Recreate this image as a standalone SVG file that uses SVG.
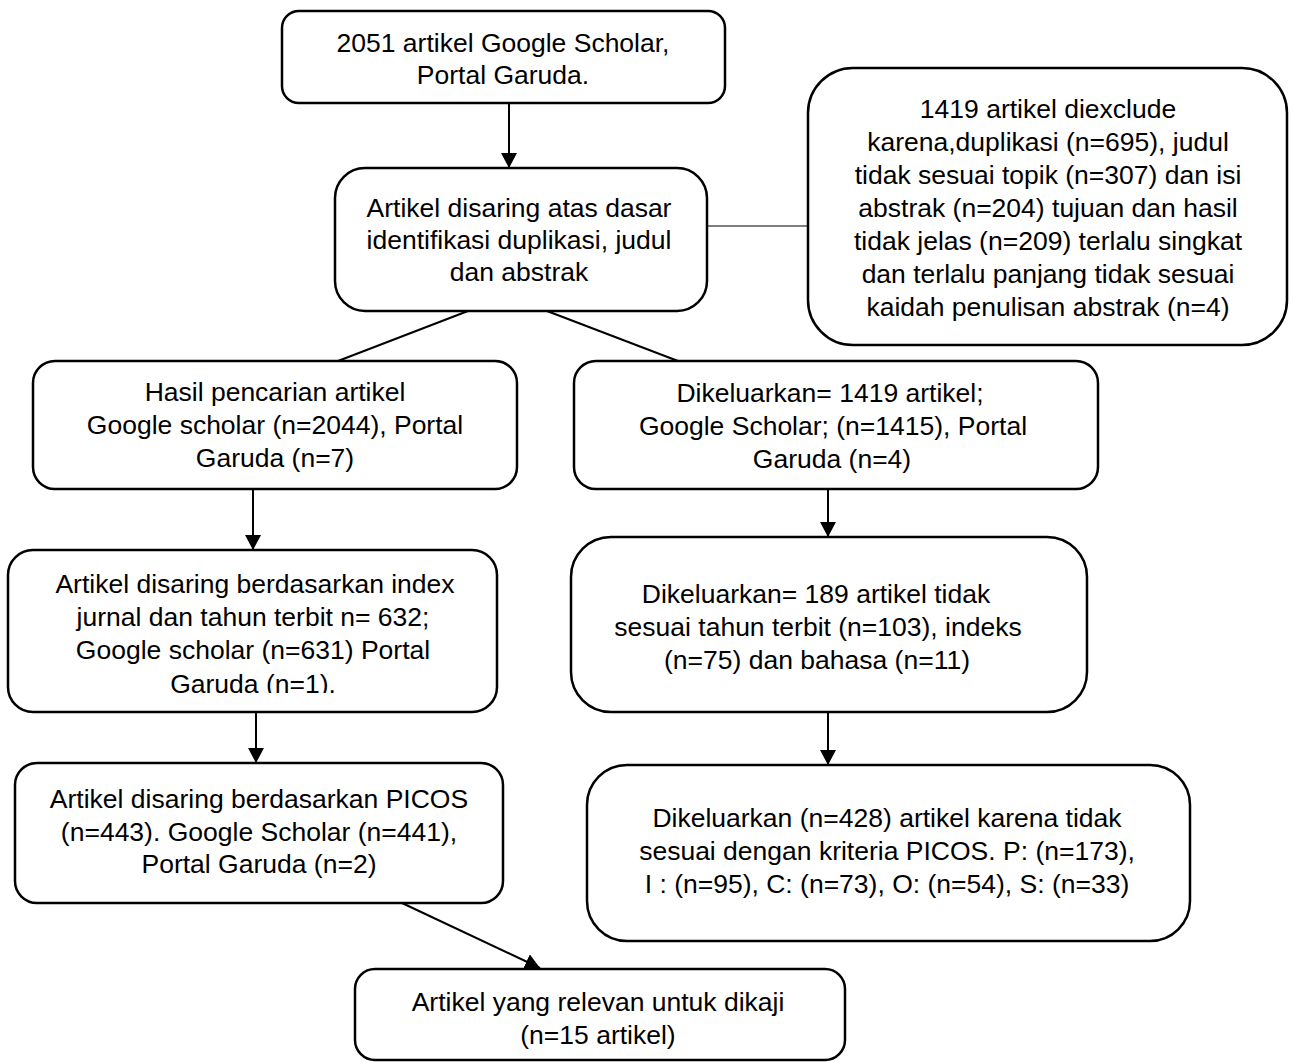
<svg xmlns="http://www.w3.org/2000/svg" width="1293" height="1062" viewBox="0 0 1293 1062">
<style>
.box{fill:#fff;stroke:#000;stroke-width:2.5}
.t{font-family:"Liberation Sans",Arial,sans-serif;font-size:26.5px;fill:#000;text-anchor:middle}
.c{stroke:#000;stroke-width:2;fill:none}
.thin{stroke:#000;stroke-width:1.2;fill:none}
</style>
<defs>
<marker id="ah" markerUnits="userSpaceOnUse" markerWidth="16" markerHeight="16" refX="15" refY="8" orient="auto">
<path d="M0,0 L15,8 L0,16 z" fill="#000"/>
</marker>
<clipPath id="clip6"><rect x="0" y="540" width="520" height="153"/></clipPath>
</defs>
<rect width="1293" height="1062" fill="#fff"/>
<g id="connectors">
<line class="c" x1="509" y1="103" x2="509" y2="168" marker-end="url(#ah)"/>
<line class="thin" x1="707" y1="226" x2="808" y2="226"/>
<line class="c" x1="468" y1="311" x2="338" y2="361"/>
<line class="c" x1="547" y1="311" x2="678" y2="361"/>
<line class="c" x1="253" y1="489" x2="253" y2="550" marker-end="url(#ah)"/>
<line class="c" x1="256" y1="712" x2="256" y2="763" marker-end="url(#ah)"/>
<line class="c" x1="828" y1="489" x2="828" y2="537" marker-end="url(#ah)"/>
<line class="c" x1="828" y1="712" x2="828" y2="765" marker-end="url(#ah)"/>
<line class="c" x1="402" y1="903" x2="540" y2="968" marker-end="url(#ah)"/>
</g>
<g id="n1">
<rect class="box" x="282" y="11" width="443" height="92" rx="17"/>
<text class="t" x="503" y="52">2051 artikel Google Scholar,</text>
<text class="t" x="503" y="84">Portal Garuda.</text>
</g>
<g id="n2">
<rect class="box" x="335" y="168" width="372" height="143" rx="30"/>
<text class="t" x="519" y="217">Artikel disaring atas dasar</text>
<text class="t" x="519" y="249">identifikasi duplikasi, judul</text>
<text class="t" x="519" y="281">dan abstrak</text>
</g>
<g id="n3">
<rect class="box" x="808" y="68" width="479" height="277" rx="45"/>
<text class="t" x="1048" y="118">1419 artikel diexclude</text>
<text class="t" x="1048" y="151">karena,duplikasi (n=695), judul</text>
<text class="t" x="1048" y="184">tidak sesuai topik (n=307) dan isi</text>
<text class="t" x="1048" y="217">abstrak (n=204) tujuan dan hasil</text>
<text class="t" x="1048" y="250">tidak jelas (n=209) terlalu singkat</text>
<text class="t" x="1048" y="283">dan terlalu panjang tidak sesuai</text>
<text class="t" x="1048" y="316">kaidah penulisan abstrak (n=4)</text>
</g>
<g id="n4">
<rect class="box" x="33" y="361" width="484" height="128" rx="22"/>
<text class="t" x="275" y="401">Hasil pencarian artikel</text>
<text class="t" x="275" y="434">Google scholar (n=2044), Portal</text>
<text class="t" x="275" y="467">Garuda (n=7)</text>
</g>
<g id="n5">
<rect class="box" x="574" y="361" width="524" height="128" rx="22"/>
<text class="t" x="830" y="402">Dikeluarkan= 1419 artikel;</text>
<text class="t" x="833" y="435">Google Scholar; (n=1415), Portal</text>
<text class="t" x="832" y="468">Garuda (n=4)</text>
</g>
<g id="n6">
<rect class="box" x="8" y="550" width="489" height="162" rx="25"/>
<g clip-path="url(#clip6)">
<text class="t" x="255" y="593">Artikel disaring berdasarkan index</text>
<text class="t" x="253" y="626">jurnal dan tahun terbit n= 632;</text>
<text class="t" x="253" y="659">Google scholar (n=631) Portal</text>
<text class="t" x="253" y="693">Garuda (n=1).</text>
</g>
</g>
<g id="n7">
<rect class="box" x="15" y="763" width="488" height="140" rx="22"/>
<text class="t" x="259" y="808">Artikel disaring berdasarkan PICOS</text>
<text class="t" x="259" y="841">(n=443). Google Scholar (n=441),</text>
<text class="t" x="259" y="873">Portal Garuda (n=2)</text>
</g>
<g id="n8">
<rect class="box" x="571" y="537" width="516" height="175" rx="40"/>
<text class="t" x="816" y="603">Dikeluarkan= 189 artikel tidak</text>
<text class="t" x="818" y="636">sesuai tahun terbit (n=103), indeks</text>
<text class="t" x="817" y="669">(n=75) dan bahasa (n=11)</text>
</g>
<g id="n9">
<rect class="box" x="587" y="765" width="603" height="176" rx="40"/>
<text class="t" x="887" y="827">Dikeluarkan (n=428) artikel karena tidak</text>
<text class="t" x="887" y="860">sesuai dengan kriteria PICOS. P: (n=173),</text>
<text class="t" x="887" y="893">I : (n=95), C: (n=73), O: (n=54), S: (n=33)</text>
</g>
<g id="n10">
<rect class="box" x="355" y="969" width="490" height="91" rx="20"/>
<text class="t" x="598" y="1011">Artikel yang relevan untuk dikaji</text>
<text class="t" x="598" y="1044">(n=15 artikel)</text>
</g>
</svg>
